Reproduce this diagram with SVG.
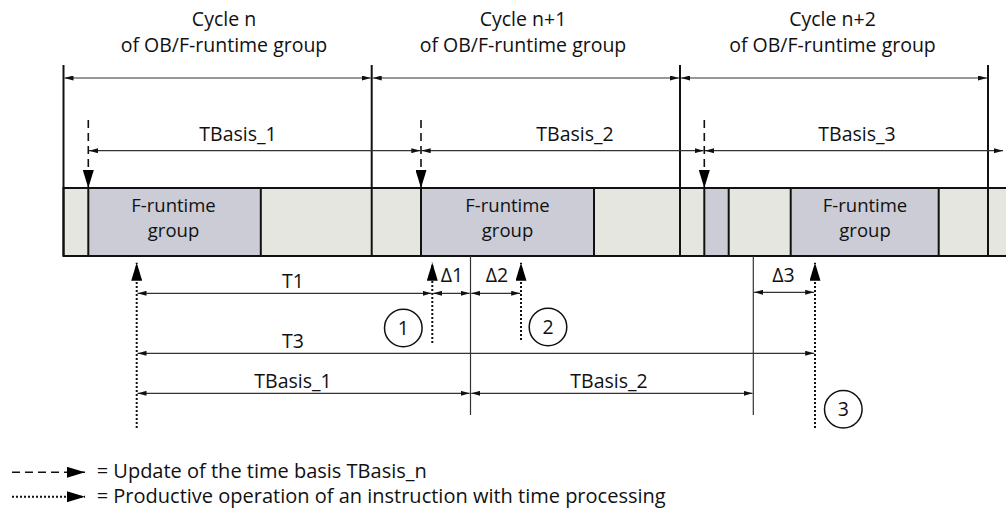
<svg xmlns="http://www.w3.org/2000/svg" width="1006" height="520" viewBox="0 0 1006 520">
<style>
text{font-family:"Open Sans","Noto Sans","Liberation Sans",sans-serif;font-size:19.5px;fill:#111}
.m{text-anchor:middle}
.lg{font-size:20px}
.bx{font-size:18.5px}
.light{fill:#e6e6e0;stroke:#111;stroke-width:2}
.fg{fill:#cbccd6;stroke:#111;stroke-width:2}
.cyc{stroke:#111;stroke-width:2;fill:none}
.dim{stroke:#333;stroke-width:1.2;fill:none;marker-start:url(#ah);marker-end:url(#ah)}
.dash{stroke:#111;stroke-width:1.6;stroke-dasharray:8 5;fill:none;marker-end:url(#big)}
.dot{stroke:#111;stroke-width:2;stroke-dasharray:2 2;fill:none;marker-end:url(#big)}
.thin{stroke:#333;stroke-width:1.2;fill:none}
.circ{fill:none;stroke:#111;stroke-width:1.5}
</style>
<defs>
<marker id="ah" viewBox="0 0 9 5" refX="9" refY="2.5" markerWidth="9" markerHeight="5" markerUnits="userSpaceOnUse" orient="auto-start-reverse"><path d="M0,0 L9,2.5 L0,5 z" fill="#111"/></marker>
<marker id="big" viewBox="0 0 18 11" refX="18" refY="5.5" markerWidth="18" markerHeight="11" markerUnits="userSpaceOnUse" orient="auto"><path d="M0,0 L18,5.5 L0,11 z" fill="#000"/></marker>
</defs>

<g id="bar">
<rect class="light" x="63.5" y="188" width="960" height="68"/>
<rect class="fg" x="88.3" y="188" width="172.5" height="68"/>
<rect class="fg" x="421" y="188" width="173" height="68"/>
<rect class="fg" x="704.3" y="188" width="24.4" height="68"/>
<rect class="fg" x="790.7" y="188" width="148" height="68"/>
</g>

<g id="cycle-lines">
<line class="cyc" x1="63.5" y1="65" x2="63.5" y2="256"/>
<line class="cyc" x1="371.7" y1="65" x2="371.7" y2="256"/>
<line class="cyc" x1="680" y1="65" x2="680" y2="256"/>
<line class="cyc" x1="988" y1="65" x2="988" y2="256"/>
</g>

<g id="labels-top">
<text class="m" x="224" y="26">Cycle n<tspan x="224" dy="26">of OB/F-runtime group</tspan></text>
<text class="m" x="523" y="26">Cycle n+1<tspan x="523" dy="26">of OB/F-runtime group</tspan></text>
<text class="m" x="832.5" y="26">Cycle n+2<tspan x="832.5" dy="26">of OB/F-runtime group</tspan></text>
<text class="m" x="238" y="140.5">TBasis_1</text>
<text class="m" x="575" y="140.5">TBasis_2</text>
<text class="m" x="857" y="140.5">TBasis_3</text>
</g>

<g id="frt1"><text class="m bx" x="173.5" y="212">F-runtime<tspan x="173.5" dy="25.2">group</tspan></text></g>
<g id="frt2"><text class="m bx" x="507.5" y="212">F-runtime<tspan x="507.5" dy="25.2">group</tspan></text></g>
<g id="frt3"><text class="m bx" x="865" y="212">F-runtime<tspan x="865" dy="25.2">group</tspan></text></g>

<g id="connectors">
<line class="dim" x1="64.5" y1="78" x2="370.7" y2="78"/>
<line class="dim" x1="372.7" y1="78" x2="679" y2="78"/>
<line class="dim" x1="681" y1="78" x2="987" y2="78"/>
<line class="dim" x1="89" y1="150.7" x2="420.3" y2="150.7"/>
<line class="dim" x1="421.7" y1="150.7" x2="703.6" y2="150.7"/>
<line class="dim" x1="705" y1="150.7" x2="1003" y2="150.7"/>
<line class="dash" x1="88.3" y1="120" x2="88.3" y2="188"/>
<line class="dash" x1="421" y1="120" x2="421" y2="188"/>
<line class="dash" x1="704.3" y1="120" x2="704.3" y2="188"/>

<line class="thin" x1="470.5" y1="256" x2="470.5" y2="415"/>
<line class="thin" x1="753.3" y1="256" x2="753.3" y2="415"/>
<line class="dot" x1="136.7" y1="428" x2="136.7" y2="262.7"/>
<line class="dot" x1="432.3" y1="343" x2="432.3" y2="262.7"/>
<line class="dot" x1="521" y1="340" x2="521" y2="262.7"/>
<line class="dot" x1="815" y1="428" x2="815" y2="262.7"/>
<line class="dim" x1="137.5" y1="293.3" x2="431.5" y2="293.3"/>
<line class="dim" x1="433.1" y1="293.3" x2="469.7" y2="293.3"/>
<line class="dim" x1="471.3" y1="293.3" x2="520.2" y2="293.3"/>
<line class="dim" x1="754.1" y1="292.3" x2="814.2" y2="292.3"/>
<line class="dim" x1="137.5" y1="353.3" x2="814.2" y2="353.3"/>
<line class="dim" x1="137.5" y1="393.3" x2="469.7" y2="393.3"/>
<line class="dim" x1="471.3" y1="393.3" x2="752.5" y2="393.3"/>
</g>

<g id="labels-bottom">
<text class="m" x="293" y="288">T1</text>
<text class="m" x="452" y="282">Δ1</text>
<text class="m" x="497" y="282">Δ2</text>
<text class="m" x="783.5" y="282">Δ3</text>
<text class="m" x="293" y="348">T3</text>
<text class="m" x="293" y="388">TBasis_1</text>
<text class="m" x="609" y="388">TBasis_2</text>
</g>

<g id="note1"><circle class="circ" cx="403.3" cy="328" r="18.8"/><text class="m" x="403.3" y="335">1</text></g>
<g id="note2"><circle class="circ" cx="548" cy="327" r="18.8"/><text class="m" x="548" y="334">2</text></g>
<g id="note3"><circle class="circ" cx="843.3" cy="409.3" r="18.8"/><text class="m" x="843.3" y="416.3">3</text></g>

<g id="legend">
<line class="dash" x1="12" y1="472.3" x2="85" y2="472.3"/>
<text class="lg" x="96.7" y="478">= Update of the time basis TBasis_n</text>
<line class="dot" x1="12" y1="496.7" x2="85" y2="496.7"/>
<text class="lg" x="96.7" y="502.5">= Productive operation of an instruction with time processing</text>
</g>
</svg>
